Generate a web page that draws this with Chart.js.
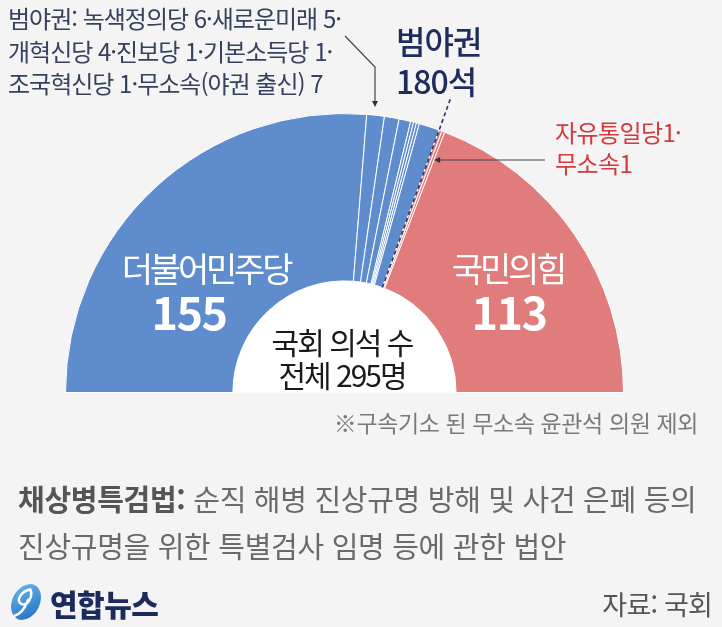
<!DOCTYPE html>
<html lang="ko">
<head>
<meta charset="utf-8">
<title>국회 의석 수</title>
<script src="https://cdn.jsdelivr.net/npm/chart.js@4.4.1/dist/chart.umd.min.js"></script>
<style>
  html, body { margin: 0; padding: 0; background: #f4f4f4; }
  #wrap { position: relative; width: 722px; height: 627px; overflow: hidden;
          font-family: 'Noto Sans CJK KR', 'Noto Sans', sans-serif; }
  #chart { position: absolute; left: 0; top: 0; }
  .t { position: absolute; white-space: nowrap; line-height: 1; }
  .c { transform: translateX(-50%); text-align: center; }
  .r { transform: translateX(-100%); }
</style>
</head>
<body>
<div id="wrap">
  <canvas id="chart" width="722" height="627"></canvas>

  <div class="t" id="oppNote" style="left:8px; top:6px; font-size:24px; letter-spacing:-1px; color:#34425f;"></div>
  <div class="t" id="oppNote2" style="left:8px; top:39px; font-size:24px; letter-spacing:-1px; color:#34425f;"></div>
  <div class="t" id="oppNote3" style="left:8px; top:71px; font-size:24px; letter-spacing:-1px; color:#34425f;"></div>

  <div class="t" id="oppTotal" style="left:396px; top:20px; font-size:32px; font-weight:500; letter-spacing:-1px; color:#1f2d5c; line-height:40px;"></div>

  <div class="t" id="rightNote" style="left:555px; top:116px; font-size:24px; letter-spacing:-0.6px; color:#d3393f; line-height:31px;"></div>

  <div class="t c" id="demName" style="left:206px; top:251px; font-size:34px; letter-spacing:-3.2px; color:#fff;"></div>
  <div class="t c" id="demSeats" style="left:189px; top:288px; font-size:45px; font-weight:700; letter-spacing:-1.5px; color:#fff;"></div>
  <div class="t c" id="pppName" style="left:508px; top:251px; font-size:34px; letter-spacing:-3.2px; color:#fff;"></div>
  <div class="t c" id="pppSeats" style="left:509px; top:288px; font-size:45px; font-weight:700; letter-spacing:-1.5px; color:#fff;"></div>

  <div class="t c" id="centerText" style="left:342px; top:325px; font-size:30px; letter-spacing:-2px; color:#1a1a1a; line-height:33px;"></div>

  <div class="t r" style="left:698px; top:411px; font-size:23px; letter-spacing:-0.4px; color:#7a7a7a;">※구속기소 된 무소속 윤관석 의원 제외</div>

  <div class="t" style="left:18px; top:475px; font-size:29px; letter-spacing:-0.3px; color:#6a6a6a; line-height:47px;"><b style="color:#555;">채상병특검법:</b> 순직 해병 진상규명 방해 및 사건 은폐 등의<br>진상규명을 위한 특별검사 임명 등에 관한 법안</div>

  <svg style="position:absolute; left:5px; top:583px;" width="42" height="38" viewBox="0 0 40 36">
    <defs>
      <linearGradient id="lg" x1="0" y1="0" x2="1" y2="1">
        <stop offset="0" stop-color="#6fb6ea"/>
        <stop offset="1" stop-color="#1d6fc0"/>
      </linearGradient>
    </defs>
    <ellipse cx="20" cy="18" rx="13" ry="18" transform="rotate(28 20 18)" fill="url(#lg)"/>
    <path d="M24 6 C14 8 10 18 16 20 C22 22 27 12 24 6 M22 16 C19 24 14 30 9 31" fill="none" stroke="#fff" stroke-width="2.4" stroke-linecap="round"/>
  </svg>
  <div class="t" style="left:50px; top:588px; font-size:30px; font-weight:900; letter-spacing:-0.5px; color:#1c2a5c;">연합뉴스</div>
  <div class="t r" style="left:712px; top:590px; font-size:27px; letter-spacing:-0.8px; color:#555;">자료: 국회</div>
</div>

<script>
// 정당별 의석 (왼쪽 → 오른쪽 순서)
const parties = ['더불어민주당', '녹색정의당', '새로운미래', '개혁신당', '진보당', '기본소득당', '조국혁신당', '무소속(야권 출신)', '자유통일당', '무소속', '국민의힘'];
const seats = [155, 6, 5, 4, 1, 1, 1, 7, 1, 1, 113];
const camp = ['opp', 'opp', 'opp', 'opp', 'opp', 'opp', 'opp', 'opp', 'rul', 'rul', 'rul'];

const BLUE = '#5f8ccd';
const RED = '#e07c7c';

const total = seats.reduce((a, b) => a + b, 0);
const oppTotal = seats.filter((s, i) => camp[i] === 'opp').reduce((a, b) => a + b, 0);

// 텍스트
const small = parties.map((p, i) => p + ' ' + seats[i]);
document.getElementById('oppNote').textContent = '범야권: ' + small[1] + '·' + small[2] + '·';
document.getElementById('oppNote2').textContent = small[3] + '·' + small[4] + '·' + small[5] + '·';
document.getElementById('oppNote3').textContent = small[6] + '·' + small[7];
document.getElementById('oppTotal').innerHTML = '범야권<br>' + oppTotal + '석';
document.getElementById('rightNote').innerHTML = parties[8] + seats[8] + '·<br>' + parties[9] + seats[9];
document.getElementById('demName').textContent = parties[0];
document.getElementById('demSeats').textContent = seats[0];
document.getElementById('pppName').textContent = parties[10];
document.getElementById('pppSeats').textContent = seats[10];
document.getElementById('centerText').innerHTML = '국회 의석 수<br>전체 ' + total + '명';

function arrowHead(ctx, x, y, dir) {
    const s = 6;
    ctx.beginPath();
    if (dir === 'down') {
        ctx.moveTo(x, y); ctx.lineTo(x - s / 2, y - s); ctx.lineTo(x + s / 2, y - s);
    } else {
        ctx.moveTo(x, y); ctx.lineTo(x + s, y - s / 2); ctx.lineTo(x + s, y + s / 2);
    }
    ctx.closePath();
    ctx.fill();
}

const overlay = {
    id: 'overlay',
    beforeDatasetsDraw(chart) {
        const arc = chart.getDatasetMeta(0).data[0];
        const ctx = chart.ctx;
        ctx.save();
        ctx.fillStyle = '#ffffff';
        ctx.beginPath();
        ctx.arc(arc.x, arc.y, arc.innerRadius, Math.PI, 2 * Math.PI);
        ctx.closePath();
        ctx.fill();
        ctx.restore();
    },
    afterDatasetsDraw(chart) {
        const arc = chart.getDatasetMeta(0).data[0];
        const cx = arc.x, cy = arc.y;
        const ctx = chart.ctx;
        ctx.save();

        // 범야권 경계 점선
        const a = Math.PI + Math.PI * oppTotal / total;
        ctx.strokeStyle = '#2b3668';
        ctx.lineWidth = 1.6;
        ctx.setLineDash([4, 3]);
        ctx.beginPath();
        ctx.moveTo(cx + arc.innerRadius * Math.cos(a), cy + arc.innerRadius * Math.sin(a));
        ctx.lineTo(cx + (arc.outerRadius + 33) * Math.cos(a), cy + (arc.outerRadius + 33) * Math.sin(a));
        ctx.stroke();
        ctx.setLineDash([]);

        // 왼쪽 위 설명 화살표
        ctx.strokeStyle = '#444';
        ctx.fillStyle = '#333';
        ctx.lineWidth = 1.2;
        ctx.beginPath();
        ctx.moveTo(345, 36);
        ctx.lineTo(375, 67);
        ctx.lineTo(375, 101);
        ctx.stroke();
        arrowHead(ctx, 375, 107, 'down');

        // 오른쪽 설명 화살표 (자유통일당·무소속 조각)
        const b = Math.PI + Math.PI * (oppTotal + 1) / total;
        const ly = 160;
        const r = (ly - cy) / Math.sin(b);
        const tipX = cx + r * Math.cos(b) + 3;
        ctx.beginPath();
        ctx.moveTo(545, ly);
        ctx.lineTo(tipX + 6, ly);
        ctx.stroke();
        arrowHead(ctx, tipX, ly, 'left');
        ctx.restore();
    }
};

new Chart(document.getElementById('chart'), {
    type: 'doughnut',
    data: {
        labels: parties,
        datasets: [{
            data: seats,
            backgroundColor: camp.map(c => c === 'opp' ? BLUE : RED),
            borderColor: '#ffffff',
            borderWidth: 1,
            hoverOffset: 0
        }]
    },
    options: {
        responsive: false,
        animation: false,
        rotation: -90,
        circumference: 180,
        cutout: '40%',
        layout: { padding: { left: 65, right: 98, top: 113, bottom: 234 } },
        plugins: { legend: { display: false }, tooltip: { enabled: false } },
        events: []
    },
    plugins: [overlay]
});
</script>
</body>
</html>
